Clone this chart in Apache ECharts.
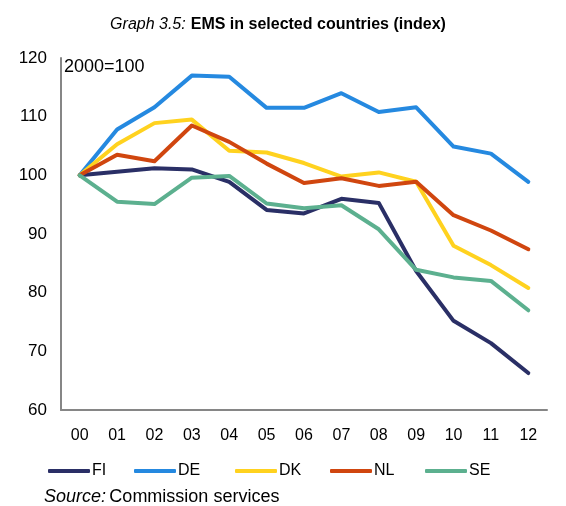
<!DOCTYPE html>
<html><head><meta charset="utf-8">
<script src="https://cdn.jsdelivr.net/npm/echarts@6/dist/echarts.min.js"></script>
<style>html,body{margin:0;padding:0;background:#fff}#c{width:566px;height:506px}</style>
</head><body><div id="c"></div>
<script>
const categories = ['00','01','02','03','04','05','06','07','08','09','10','11','12'];
const FI = [100,100.6,101.2,101.0,98.9,94.1,93.5,96.0,95.3,83.7,75.2,71.4,66.3];
const DE = [100,107.8,111.6,117.0,116.8,111.5,111.5,114.0,110.8,111.6,104.9,103.7,98.9];
const DK = [100,105.3,108.9,109.5,104.2,103.9,102.1,99.8,100.5,98.9,88.0,84.7,80.8];
const NL = [100,103.5,102.4,108.5,105.7,102.0,98.7,99.5,98.2,98.9,93.2,90.6,87.4];
const SE = [100,95.5,95.1,99.6,99.9,95.2,94.4,94.9,90.8,83.9,82.6,82.0,77.0];
const yTicks = [60,70,80,90,100,110,120];

const seriesDefs = [
  {name:'FI', data:FI, color:'#2a2f66', legendLeft:48},
  {name:'DE', data:DE, color:'#2589e0', legendLeft:134},
  {name:'DK', data:DK, color:'#ffd21f', legendLeft:235},
  {name:'NL', data:NL, color:'#d0460f', legendLeft:330},
  {name:'SE', data:SE, color:'#5cb08f', legendLeft:425}
];
const FONT = 'Liberation Sans, Arial, sans-serif';
const chart = echarts.init(document.getElementById('c'), null, {renderer:'canvas'});
chart.setOption({
  animation:false,
  backgroundColor:'#fff',
  title:{
    text:'{i|Graph 3.5:} {b|EMS in selected countries (index)}',
    left:273, top:11, textAlign:'center',
    textStyle:{rich:{
      i:{fontFamily:FONT,fontSize:16,fontStyle:'italic',fontWeight:'normal',color:'#000'},
      b:{fontFamily:FONT,fontSize:16,fontWeight:'bold',color:'#000'}
    }}
  },
  graphic:[
    {type:'text', left:64, top:58, style:{text:'2000=100', font:'18px '+FONT, fill:'#000'}},
    {type:'text', left:44, top:488, style:{rich:{
        i:{fontFamily:FONT,fontSize:18,fontStyle:'italic',fill:'#000'},
        n:{fontFamily:FONT,fontSize:18,fill:'#000'}},
        text:'{i|Source:} {n|Commission services}'}}
  ],
  legend: seriesDefs.map(s=>({
    data:[s.name], left:s.legendLeft, top:463, itemWidth:42, itemHeight:4, itemGap:0,
    padding:0, icon:'roundRect',
    textStyle:{fontFamily:FONT,fontSize:16,color:'#000',padding:[0,0,0,-3]}
  })),
  grid:{left:61, right:19, top:58, bottom:96, containLabel:false},
  xAxis:{
    type:'category', data:categories, boundaryGap:true,
    axisLine:{lineStyle:{color:'#868686',width:2}},
    axisTick:{show:false},
    axisLabel:{fontFamily:FONT,fontSize:16,color:'#000',margin:18}
  },
  yAxis:{
    type:'value', min:60, max:120, interval:10,
    axisLine:{show:true,lineStyle:{color:'#868686',width:2}},
    axisTick:{show:false},
    splitLine:{show:false},
    axisLabel:{fontFamily:FONT,fontSize:17,color:'#000',margin:14,
      formatter:v=>yTicks.includes(v)?String(v):''}
  },
  series: seriesDefs.map(s=>({
    name:s.name, type:'line', data:s.data, symbol:'none',
    lineStyle:{width:4,color:s.color,cap:'round',join:'round'},
    itemStyle:{color:s.color}
  }))
});
</script></body></html>
